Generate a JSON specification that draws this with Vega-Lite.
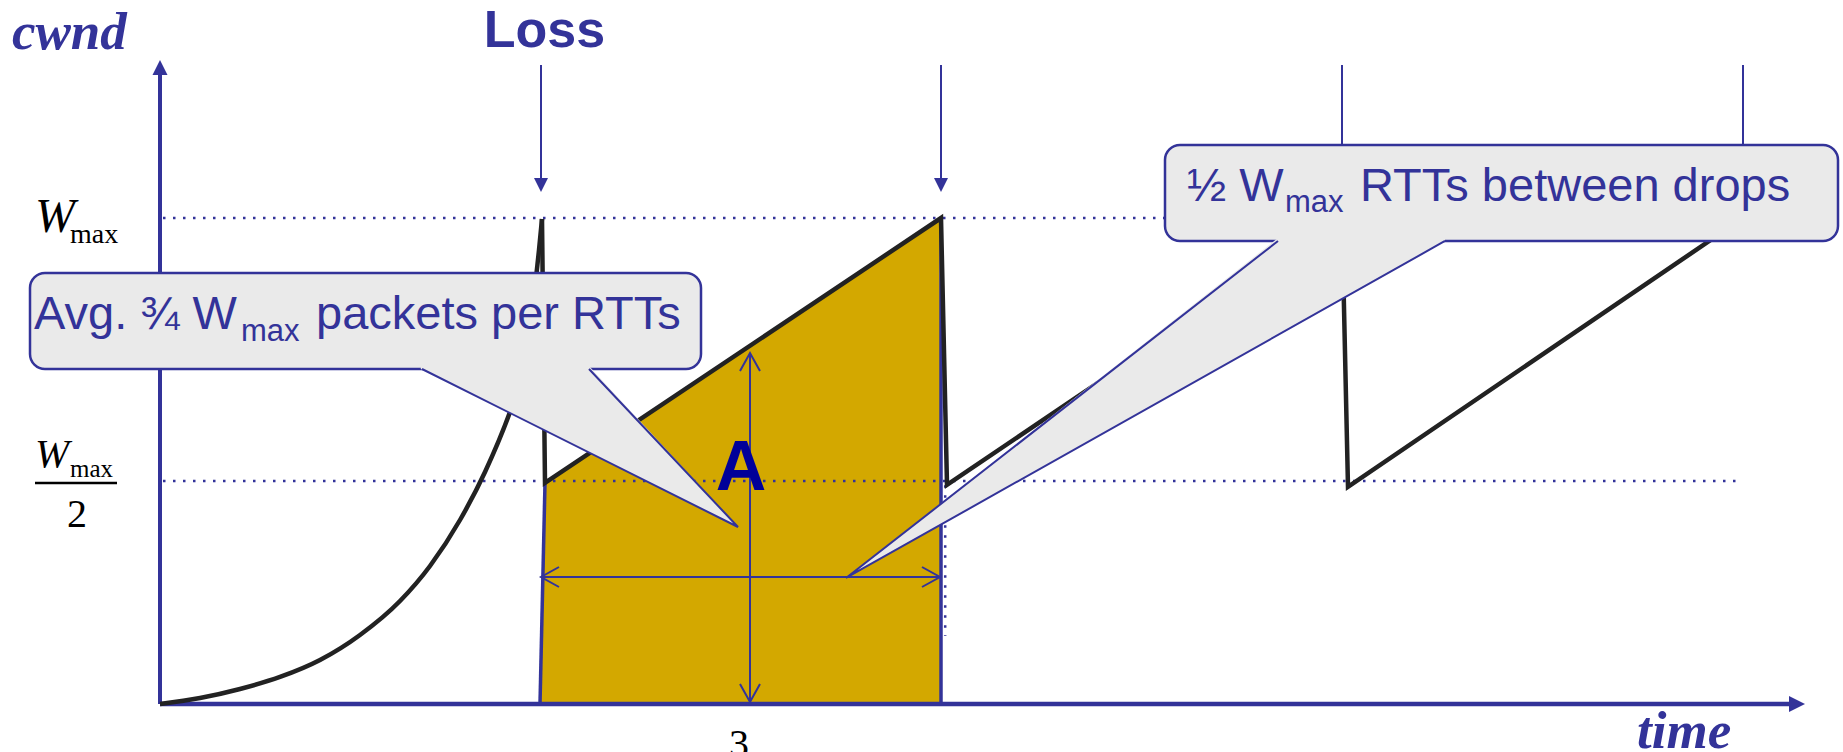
{
  "$schema": "https://vega.github.io/schema/vega-lite/v6.json",
  "width": 1843,
  "height": 752,
  "autosize": {"type": "none"},
  "padding": 0,
  "background": "white",
  "config": {"view": {"stroke": null}},
  "datasets": {
    "gold": [{"t": 47.5, "c": 0, "c2": 0}, {"t": 48.125, "c": 45.5, "c2": 0}, {"t": 97.625, "c": 100, "c2": 0}],
    "dotted": [
      {"t": 0.375, "c": 100, "t2": 197.875, "c2": 100},
      {"t": 0.375, "c": 45.88, "t2": 197.5, "c2": 45.88},
      {"t": 98.15, "c": 45, "t2": 98.15, "c2": 14}
    ],
    "goldEdges": [
      {"t": 47.5, "c": 0, "t2": 48.125, "c2": 45.5},
      {"t": 97.625, "c": 0, "t2": 97.625, "c2": 100},
      {"t": 47.5, "c": 0, "t2": 97.625, "c2": 0}
    ],
    "axisY": [{"t": 0, "c": 0, "t2": 0, "c2": 130}],
    "axisX": [{"t": 0, "c": 0, "t2": 203.75, "c2": 0}],
    "tipY": [{"t": 0, "c": 132.5}],
    "tipX": [{"t": 205.625, "c": 0}],
    "slowStart": [
      {"t": 0, "c": 0}, {"t": 5, "c": 1.23}, {"t": 10, "c": 3.09}, {"t": 15, "c": 5.56},
      {"t": 20, "c": 9.05}, {"t": 25, "c": 14.2}, {"t": 30, "c": 21.19}, {"t": 33.75, "c": 28.4},
      {"t": 37.5, "c": 37.86}, {"t": 40.625, "c": 47.74}, {"t": 43.75, "c": 60.08}, {"t": 45, "c": 66.05},
      {"t": 46.25, "c": 74.9}, {"t": 47, "c": 87.65}, {"t": 47.375, "c": 93.42}, {"t": 47.75, "c": 99.79}
    ],
    "sawtooth": [
      {"i": 0, "t": 47.75, "c": 99.8}, {"i": 1, "t": 48.125, "c": 45.5}, {"i": 2, "t": 97.625, "c": 100},
      {"i": 3, "t": 98.375, "c": 45.1}, {"i": 4, "t": 147.75, "c": 100}, {"i": 5, "t": 148.5, "c": 44.7},
      {"i": 6, "t": 197.875, "c": 100}
    ],
    "lossLines": [
      {"t": 47.625, "c": 131.5, "t2": 47.625, "c2": 107},
      {"t": 97.625, "c": 131.5, "t2": 97.625, "c2": 107},
      {"t": 147.75, "c": 131.5, "t2": 147.75, "c2": 107},
      {"t": 197.875, "c": 131.5, "t2": 197.875, "c2": 107}
    ],
    "lossTips": [{"t": 47.625, "c": 105.35}, {"t": 97.625, "c": 105.35}, {"t": 147.75, "c": 105.35}, {"t": 197.875, "c": 105.35}],
    "dims": [
      {"t": 73.75, "c": 0.41, "t2": 73.75, "c2": 72.2},
      {"t": 47.625, "c": 26.13, "t2": 97.5, "c2": 26.13}
    ],
    "chevUp": [{"t": 73.75, "c": 72.2}],
    "chevDown": [{"t": 73.75, "c": 0.41}],
    "chevLeft": [{"t": 47.625, "c": 26.13}],
    "chevRight": [{"t": 97.5, "c": 26.13}],
    "box1": [{"t": -16.25, "c": 88.68, "t2": 67.625, "c2": 68.93}],
    "tail1": [{"t": 32.6, "c": 69.55, "c2": 68.93}, {"t": 53.625, "c": 69.55, "c2": 51.77}, {"t": 72.25, "c": 36.42, "c2": 36.42}],
    "tail1Edge": [{"i": 0, "t": 32.75, "c": 68.93}, {"i": 1, "t": 72.25, "c": 36.42}, {"i": 2, "t": 53.625, "c": 68.93}],
    "box2": [{"t": 125.625, "c": 115.02, "t2": 209.75, "c2": 95.27}],
    "tail2": [{"t": 85.75, "c": 25.93, "c2": 25.93}, {"t": 139.75, "c": 95.88, "c2": 75.93}, {"t": 160.625, "c": 95.88, "c2": 95.27}],
    "tail2Edge": [{"i": 0, "t": 139.75, "c": 95.27}, {"i": 1, "t": 85.75, "c": 25.93}, {"i": 2, "t": 160.625, "c": 95.27}],
    "fracBar": [{"t": -15.625, "c": 45.47, "t2": -5.375, "c2": 45.47}],
    "calloutText": [
      {"t": -15.75, "c": 77.16, "label": "Avg. ¾ W"},
      {"t": 19.5, "c": 77.16, "label": "packets per RTTs"},
      {"t": 128.375, "c": 103.5, "label": "½ W"},
      {"t": 150, "c": 103.5, "label": "RTTs between drops"}
    ],
    "calloutSub": [{"t": 10.125, "c": 74.69, "label": "max"}, {"t": 140.625, "c": 101.23, "label": "max"}],
    "axisTitles": [{"t": -18.5, "c": 134.77, "label": "cwnd"}, {"t": 184.625, "c": -9.05, "label": "time"}],
    "lossText": [{"t": 48.06, "c": 135.2, "label": "Loss"}],
    "wUpper": [{"t": -15.625, "c": 97.12, "label": "W"}],
    "wLower": [{"t": -15.625, "c": 48.77, "label": "W"}],
    "maxUpper": [{"t": -11.25, "c": 94.86, "label": "max"}],
    "maxLower": [{"t": -11.25, "c": 46.71, "label": "max"}],
    "two": [{"t": -10.375, "c": 36.42, "label": "2"}],
    "three": [{"t": 71.125, "c": -10.9, "label": "3"}],
    "aText": [{"t": 72.625, "c": 44.03, "label": "A"}]
  },
  "encoding": {
    "x": {"field": "t", "type": "quantitative", "scale": {"domain": [-20, 210.375], "nice": false, "zero": false}, "axis": null},
    "y": {"field": "c", "type": "quantitative", "scale": {"domain": [-9.88, 144.86], "nice": false, "zero": false}, "axis": null}
  },
  "layer": [
    {"data": {"name": "gold"}, "mark": {"type": "area", "color": "#D3A800", "opacity": 1}, "encoding": {"y2": {"field": "c2"}}},
    {"data": {"name": "dotted"}, "mark": {"type": "rule", "color": "#333399", "strokeWidth": 2.5, "strokeDash": [2.5, 7.5]}, "encoding": {"x2": {"field": "t2"}, "y2": {"field": "c2"}}},
    {"data": {"name": "goldEdges"}, "mark": {"type": "rule", "color": "#333399", "strokeWidth": 3.5}, "encoding": {"x2": {"field": "t2"}, "y2": {"field": "c2"}}},
    {"data": {"name": "axisY"}, "mark": {"type": "rule", "color": "#333399", "strokeWidth": 4}, "encoding": {"x2": {"field": "t2"}, "y2": {"field": "c2"}}},
    {"data": {"name": "axisX"}, "mark": {"type": "rule", "color": "#333399", "strokeWidth": 4.5}, "encoding": {"x2": {"field": "t2"}, "y2": {"field": "c2"}}},
    {"data": {"name": "tipY"}, "mark": {"type": "point", "shape": "M0,0L1,2L-1,2Z", "size": 225, "filled": true, "color": "#333399", "opacity": 1, "strokeWidth": 0}},
    {"data": {"name": "tipX"}, "mark": {"type": "point", "shape": "M0,0L-2,-1L-2,1Z", "size": 256, "filled": true, "color": "#333399", "opacity": 1, "strokeWidth": 0}},
    {"data": {"name": "slowStart"}, "mark": {"type": "line", "color": "#222222", "strokeWidth": 4.5, "interpolate": "monotone"}},
    {"data": {"name": "sawtooth"}, "mark": {"type": "line", "color": "#222222", "strokeWidth": 4.5}, "encoding": {"order": {"field": "i", "type": "quantitative"}}},
    {"data": {"name": "lossLines"}, "mark": {"type": "rule", "color": "#333399", "strokeWidth": 2}, "encoding": {"x2": {"field": "t2"}, "y2": {"field": "c2"}}},
    {"data": {"name": "lossTips"}, "mark": {"type": "point", "shape": "M0,0L1,-2L-1,-2Z", "size": 196, "filled": true, "color": "#333399", "opacity": 1, "strokeWidth": 0}},
    {"data": {"name": "dims"}, "mark": {"type": "rule", "color": "#333399", "strokeWidth": 2}, "encoding": {"x2": {"field": "t2"}, "y2": {"field": "c2"}}},
    {"data": {"name": "chevUp"}, "mark": {"type": "point", "shape": "M-1,1.8L0,0L1,1.8", "size": 400, "filled": false, "color": "#333399", "opacity": 1, "strokeWidth": 2}},
    {"data": {"name": "chevDown"}, "mark": {"type": "point", "shape": "M-1,-1.8L0,0L1,-1.8", "size": 400, "filled": false, "color": "#333399", "opacity": 1, "strokeWidth": 2}},
    {"data": {"name": "chevLeft"}, "mark": {"type": "point", "shape": "M1.8,-1L0,0L1.8,1", "size": 400, "filled": false, "color": "#333399", "opacity": 1, "strokeWidth": 2}},
    {"data": {"name": "chevRight"}, "mark": {"type": "point", "shape": "M-1.8,-1L0,0L-1.8,1", "size": 400, "filled": false, "color": "#333399", "opacity": 1, "strokeWidth": 2}},
    {"data": {"name": "aText"}, "mark": {"type": "text", "font": "Liberation Sans", "fontWeight": "bold", "fontSize": 70, "color": "#000099", "align": "center", "baseline": "alphabetic"}, "encoding": {"text": {"field": "label"}}},
    {"data": {"name": "box1"}, "mark": {"type": "rect", "cornerRadius": 15, "fill": "#EAEAEA", "stroke": "#333399", "strokeWidth": 2.5, "opacity": 1}, "encoding": {"x2": {"field": "t2"}, "y2": {"field": "c2"}}},
    {"data": {"name": "tail1"}, "mark": {"type": "area", "color": "#EAEAEA", "opacity": 1}, "encoding": {"y2": {"field": "c2"}}},
    {"data": {"name": "tail1Edge"}, "mark": {"type": "line", "color": "#333399", "strokeWidth": 2}, "encoding": {"order": {"field": "i", "type": "quantitative"}}},
    {"data": {"name": "box2"}, "mark": {"type": "rect", "cornerRadius": 15, "fill": "#EAEAEA", "stroke": "#333399", "strokeWidth": 2.5, "opacity": 1}, "encoding": {"x2": {"field": "t2"}, "y2": {"field": "c2"}}},
    {"data": {"name": "tail2"}, "mark": {"type": "area", "color": "#EAEAEA", "opacity": 1}, "encoding": {"y2": {"field": "c2"}}},
    {"data": {"name": "tail2Edge"}, "mark": {"type": "line", "color": "#333399", "strokeWidth": 2}, "encoding": {"order": {"field": "i", "type": "quantitative"}}},
    {"data": {"name": "fracBar"}, "mark": {"type": "rule", "color": "#000000", "strokeWidth": 2.5}, "encoding": {"x2": {"field": "t2"}, "y2": {"field": "c2"}}},
    {"data": {"name": "calloutText"}, "mark": {"type": "text", "font": "Liberation Sans", "fontSize": 47, "color": "#333399", "align": "left", "baseline": "alphabetic"}, "encoding": {"text": {"field": "label"}}},
    {"data": {"name": "calloutSub"}, "mark": {"type": "text", "font": "Liberation Sans", "fontSize": 31, "color": "#333399", "align": "left", "baseline": "alphabetic"}, "encoding": {"text": {"field": "label"}}},
    {"data": {"name": "axisTitles"}, "mark": {"type": "text", "font": "Liberation Serif", "fontStyle": "italic", "fontWeight": "bold", "fontSize": 53, "color": "#333399", "align": "left", "baseline": "alphabetic"}, "encoding": {"text": {"field": "label"}}},
    {"data": {"name": "lossText"}, "mark": {"type": "text", "font": "Liberation Sans", "fontWeight": "bold", "fontSize": 52, "color": "#333399", "align": "center", "baseline": "alphabetic"}, "encoding": {"text": {"field": "label"}}},
    {"data": {"name": "wUpper"}, "mark": {"type": "text", "font": "Liberation Serif", "fontStyle": "italic", "fontSize": 48, "color": "#000000", "align": "left", "baseline": "alphabetic"}, "encoding": {"text": {"field": "label"}}},
    {"data": {"name": "wLower"}, "mark": {"type": "text", "font": "Liberation Serif", "fontStyle": "italic", "fontSize": 41, "color": "#000000", "align": "left", "baseline": "alphabetic"}, "encoding": {"text": {"field": "label"}}},
    {"data": {"name": "maxUpper"}, "mark": {"type": "text", "font": "Liberation Serif", "fontSize": 28, "color": "#000000", "align": "left", "baseline": "alphabetic"}, "encoding": {"text": {"field": "label"}}},
    {"data": {"name": "maxLower"}, "mark": {"type": "text", "font": "Liberation Serif", "fontSize": 25, "color": "#000000", "align": "left", "baseline": "alphabetic"}, "encoding": {"text": {"field": "label"}}},
    {"data": {"name": "two"}, "mark": {"type": "text", "font": "Liberation Serif", "fontSize": 40, "color": "#000000", "align": "center", "baseline": "alphabetic"}, "encoding": {"text": {"field": "label"}}},
    {"data": {"name": "three"}, "mark": {"type": "text", "font": "Liberation Serif", "fontSize": 40, "color": "#000000", "align": "left", "baseline": "alphabetic"}, "encoding": {"text": {"field": "label"}}}
  ]
}
